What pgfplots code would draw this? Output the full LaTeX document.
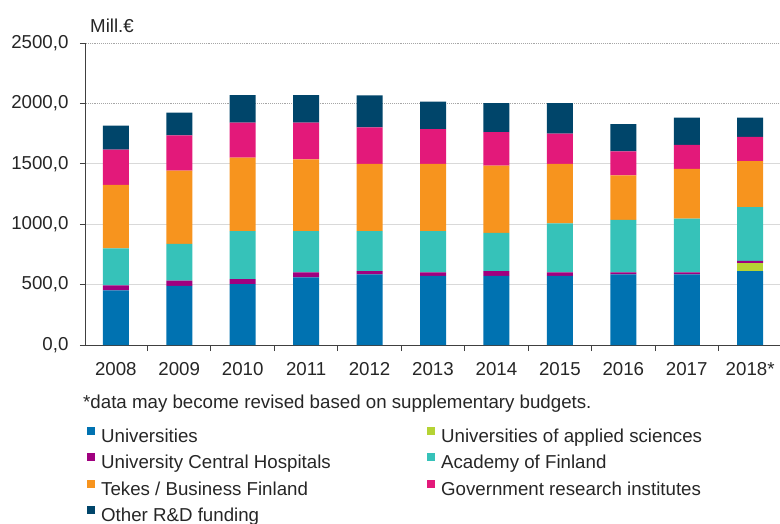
\documentclass[border=0pt]{standalone}
\usepackage{pgfplots}
\pgfplotsset{compat=1.18}
\usepackage{pgfplotstable}
\usepackage{fontspec}
\setmainfont{Liberation Sans}
\definecolor{cUniv}{HTML}{0072B1}
\definecolor{cUAS}{HTML}{B5D334}
\definecolor{cUCH}{HTML}{A0007F}
\definecolor{cAcad}{HTML}{36C2B9}
\definecolor{cTekes}{HTML}{F7941E}
\definecolor{cGov}{HTML}{E3197A}
\definecolor{cOther}{HTML}{00456A}
\newcommand\fs{\fontsize{18.7}{22}\selectfont}
\pgfplotstableread{
x univ uas uch acad tekes gov other
0 452 0 41 306 526 292 198
1 490 0 42 306 606 292 187
2 504 0 41 397 609 289 229
3 559 0 42 341 595 303 229
4 584 0 28 330 557 303 264
5 573 0 28 341 557 289 226
6 573 0 39 316 557 278 240
7 573 0 28 405 493 250 254
8 584 0 17 435 369 198 226
9 584 0 17 446 410 199 226
10 612 66 19 444 382 199 160
}\data
\begin{document}
\begin{tikzpicture}
\useasboundingbox (0,0) rectangle (780pt,523pt);
\begin{axis}[
  at={(86pt,178pt)}, anchor=south west,
  scale only axis, width=694pt, height=302pt,
  xmin=-0.47, xmax=10.47, ymin=0, ymax=2500,
  ybar stacked, bar width=26pt,
  axis x line*=bottom, axis y line*=left,
  axis line style={draw=black!75, line width=1pt},
  tick align=outside,
  xtick={0,...,10},
  xticklabels={2008,2009,2010,2011,2012,2013,2014,2015,2016,2017,2018*},
  major x tick style={draw=none},
  minor xtick={0.5,1.5,...,9.5},
  minor x tick style={draw=black!75, line width=1pt},
  minor tick length=6pt,
  major tick length=6pt,
  ytick={0,500,1000,1500},
  extra y ticks={2000,2500},
  extra y tick style={major grid style={densely dotted, draw=black!35, line width=0.8pt}},
  y tick style={draw=black!75, line width=1pt},
  ymajorgrids,
  major grid style={draw=black!15, line width=0.9pt},
  /pgf/number format/assume math mode=true,
  yticklabel style={font=\fs, text=black!85, xshift=-8pt, /pgf/number format/.cd, fixed, fixed zerofill, precision=1, use comma, 1000 sep={}},
  xticklabel style={font=\fs, text=black!85, anchor=base, yshift=-24pt},
  legend columns=2,
  legend cell align=left,
  legend style={at={(axis description cs:0.0014,-0.2685)}, anchor=north west, draw=none, fill=none, inner sep=0pt, font=\fs, text=black!85, row sep=4pt, column sep=0pt, nodes={text height=14pt, text depth=4.5pt, inner ysep=2pt, inner xsep=6pt}},
  legend image code/.code={\fill[#1] (0pt,3pt) rectangle (8pt,11pt);},
  every axis plot/.append style={draw=none},
]
\addplot+[fill=cUniv] table[x=x,y=univ]{\data};
\addlegendentry{\makebox[320pt][l]{Universities}}
\addplot+[fill=cUAS] table[x=x,y=uas]{\data};
\addlegendentry{Universities of applied sciences}
\addplot+[fill=cUCH] table[x=x,y=uch]{\data};
\addlegendentry{\makebox[320pt][l]{University Central Hospitals}}
\addplot+[fill=cAcad] table[x=x,y=acad]{\data};
\addlegendentry{Academy of Finland}
\addplot+[fill=cTekes] table[x=x,y=tekes]{\data};
\addlegendentry{\makebox[320pt][l]{Tekes / Business Finland}}
\addplot+[fill=cGov] table[x=x,y=gov]{\data};
\addlegendentry{Government research institutes}
\addplot+[fill=cOther] table[x=x,y=other]{\data};
\addlegendentry{\makebox[320pt][l]{Other R\&D funding}}
\end{axis}
\node[anchor=base west, inner sep=0pt, font=\fs, text=black!85] at (90pt,490pt) {Mill.€};
\node[anchor=base west, inner sep=0pt, font=\fs, text=black!85] at (83pt,115pt) {*data may become revised based on supplementary budgets.};
\end{tikzpicture}
\end{document}
